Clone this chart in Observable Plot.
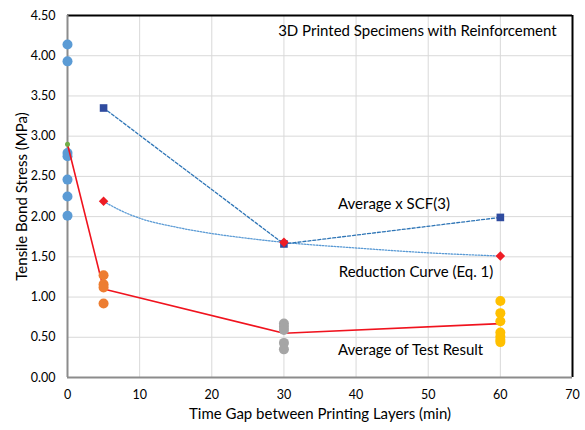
<!DOCTYPE html>
<html><head><meta charset="utf-8">
<script src="https://cdn.jsdelivr.net/npm/d3@7"></script>
<script src="https://cdn.jsdelivr.net/npm/@observablehq/plot@0.6"></script>
<style>body{margin:0;background:#fff}</style>
</head><body><div id="chart"></div>
<script>
// Test results (MPa) per time gap (min)
const gap0 = [4.14, 3.93, 2.79, 2.75, 2.46, 2.25, 2.01];
const gap5 = [1.27, 1.16, 1.12, 0.92];
const gap30 = [0.67, 0.63, 0.59, 0.43, 0.35];
const gap60 = [0.95, 0.80, 0.70, 0.56, 0.51, 0.47, 0.44];
// Average of test result
const avgX = [0, 5, 30, 60];
const avgY = [2.90, 1.10, 0.55, 0.67];
// Average x SCF(3)
const scfX = [5, 30, 60];
const scfY = [3.35, 1.66, 1.99];
// Reduction curve (Eq. 1) markers
const redX = [5, 30, 60];
const redY = [2.19, 1.68, 1.51];
// Reduction curve trace
const curveX = [5, 7.5, 10, 15, 20, 25, 30, 40, 50, 60];
const curveY = [2.19, 2.07, 1.98, 1.87, 1.79, 1.73, 1.68, 1.61, 1.55, 1.51];
// Ticks
const xTicks = [0, 10, 20, 30, 40, 50, 60, 70];
const yTicks = [0, 0.5, 1, 1.5, 2, 2.5, 3, 3.5, 4, 4.5];
// Annotations
const noteText = ["3D Printed Specimens with Reinforcement", "Average x SCF(3)", "Reduction Curve (Eq. 1)", "Average of Test Result"];
const noteX = [29.2, 37.5, 37.6, 37.5];
const noteY = [4.30, 2.16, 1.31, 0.335];

const pts = (x, arr) => arr.map(v => ({x, y: v}));
const avg = avgX.map((x, i) => ({x, y: avgY[i]}));
const scf = scfX.map((x, i) => ({x, y: scfY[i]}));
const red = redX.map((x, i) => ({x, y: redY[i]}));
const curve = curveX.map((x, i) => ({x, y: curveY[i]}));
const notes = noteText.map((t, i) => ({t, x: noteX[i], y: noteY[i]}));

const chart = Plot.plot({
  width: 585, height: 430,
  marginLeft: 67, marginRight: 13, marginTop: 15, marginBottom: 53,
  style: {fontFamily: "Lato, 'Open Sans', sans-serif", fontSize: "12px", color: "#000", background: "#fff"},
  x: {domain: [0, 70]},
  y: {domain: [0, 4.5]},
  marks: [
    Plot.gridX(xTicks.filter(d => d > 0 && d < 70), {stroke: "#d9d9d9", strokeOpacity: 1}),
    Plot.gridY(yTicks.filter(d => d > 0 && d < 4.5), {stroke: "#d9d9d9", strokeOpacity: 1}),
    Plot.axisX(xTicks, {tickSize: 0, tickPadding: 13, fontSize: 12.5, label: null}),
    Plot.axisY(yTicks, {tickSize: 0, tickPadding: 12, fontSize: 12.5, tickFormat: d3.format(".2f"), label: null}),
    Plot.ruleY([4.5], {stroke: "#000", strokeWidth: 2}),
    Plot.ruleX([70], {stroke: "#000", strokeWidth: 2}),
    Plot.ruleX([0], {stroke: "#8c8c8c", strokeWidth: 2}),
    Plot.ruleY([0], {stroke: "#8c8c8c", strokeWidth: 2}),
    Plot.line(curve, {x: "x", y: "y", curve: "monotone-x", stroke: "#5b9bd5", strokeWidth: 1.3, strokeDasharray: "1.5,1.5"}),
    Plot.line(scf, {x: "x", y: "y", stroke: "#2e75b6", strokeWidth: 1.3, strokeDasharray: "3,2"}),
    Plot.dot(pts(0, gap0), {x: "x", y: "y", r: 5, fill: "#5b9bd5"}),
    Plot.line(avg, {x: "x", y: "y", stroke: "#f0131e", strokeWidth: 1.6}),
    Plot.dot(pts(5, gap5), {x: "x", y: "y", r: 5, fill: "#ed7d31"}),
    Plot.dot(pts(30, gap30), {x: "x", y: "y", r: 5, fill: "#a5a5a5"}),
    Plot.dot(pts(60, gap60), {x: "x", y: "y", r: 5, fill: "#ffc000"}),
    Plot.dot(avg.slice(0, 1), {x: "x", y: "y", r: 2.5, fill: "#70ad47"}),
    Plot.dot(scf, {x: "x", y: "y", symbol: "square", r: 4.3, fill: "#2f4b9f"}),
    Plot.dot(red, {x: "x", y: "y", symbol: "diamond2", r: 4.3, fill: "#ee1c25"}),
    Plot.text(notes, {x: "x", y: "y", text: "t", textAnchor: "start", fontSize: 15}),
    Plot.text(["Time Gap between Printing Layers (min)"], {frameAnchor: "bottom", textAnchor: "middle", lineAnchor: "middle", dy: 37, fontSize: 15}),
    Plot.text(["Tensile Bond Stress (MPa)"], {frameAnchor: "left", textAnchor: "middle", lineAnchor: "middle", dx: -45, rotate: -90, fontSize: 15})
  ]
});
document.getElementById("chart").append(chart);
</script>
</body></html>
